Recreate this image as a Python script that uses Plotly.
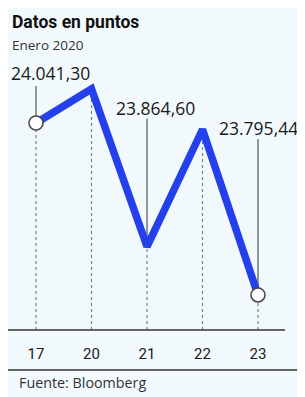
import plotly.graph_objects as go

# Data
days = ["17", "20", "21", "22", "23"]
values = [24041.30, 24090.0, 23864.60, 24032.0, 23795.44]
labels = ["24.041,30", None, "23.864,60", None, "23.795,44"]
marker_days = [0, 4]

title = "Datos en puntos"
subtitle = "Enero 2020"
source = "Fuente: Bloomberg"

xi = list(range(len(days)))
ymin, ymax = 23745.4, 24205.7
line_color = "#2340ea"
grid_color = "#6f8299"
text_color = "#1a1a1a"
num_font = "Open Sans, DejaVu Sans, sans-serif"

W, H = 297, 389
PB = 322  # plot bottom in figure pixels

fig = go.Figure()

# dotted drop lines from each point to the axis
for i, v in zip(xi, values):
    fig.add_trace(go.Scatter(
        x=[i, i], y=[ymin, v], mode="lines",
        line=dict(color=grid_color, width=1.2, dash="dot"),
        hoverinfo="skip", showlegend=False))

# main line
fig.add_trace(go.Scatter(
    x=xi, y=values, mode="lines",
    line=dict(color=line_color, width=7.5),
    showlegend=False))

# end markers
fig.add_trace(go.Scatter(
    x=[xi[i] for i in marker_days], y=[values[i] for i in marker_days],
    mode="markers",
    marker=dict(size=14, color="white", line=dict(color="#4a4a4a", width=1.6)),
    showlegend=False))

# label connectors + labels
conn = {0: (7, 37), 2: (6, 128), 4: (7, 156)}
shifts = {0: (14, 50), 2: (8.5, 139), 4: (0, 167)}
for i, lab in enumerate(labels):
    if lab is None:
        continue
    a, b = conn[i]
    fig.add_shape(type="line", xref="x", yref="y", x0=xi[i], x1=xi[i],
                  ysizemode="pixel", yanchor=values[i], y0=a, y1=b,
                  line=dict(color="#555555", width=1.2), layer="below")
    dx, dy = shifts[i]
    fig.add_annotation(x=xi[i], y=values[i], text=lab, showarrow=False,
                       xshift=dx, yshift=dy,
                       font=dict(family=num_font, size=17.5, weight=500,
                                 color=text_color))

# axis line, bottom rule
fig.add_shape(type="line", xref="paper", yref="paper", x0=0, x1=277/W,
              y0=0, y1=0, line=dict(color="#333333", width=1.6))
fig.add_shape(type="line", xref="paper", yref="paper", x0=-0.1, x1=1.1,
              y0=-40/PB, y1=-40/PB, line=dict(color="#333333", width=1.6))

# titles
fig.add_annotation(xref="paper", yref="paper", x=2/W, y=1, xanchor="left",
                   yanchor="middle", yshift=-14, text="<b>" + title + "</b>",
                   showarrow=False,
                   font=dict(family="Liberation Sans Narrow, Roboto, sans-serif",
                             size=17.5, color="#111111"))
fig.add_annotation(xref="paper", yref="paper", x=2/W, y=1, xanchor="left",
                   yanchor="middle", yshift=-37, text=subtitle, showarrow=False,
                   font=dict(family=num_font, size=13.5, color="#333333"))
fig.add_annotation(xref="paper", yref="paper", x=9/W, y=0, xanchor="left",
                   yanchor="middle", yshift=-52, text=source, showarrow=False,
                   font=dict(family=num_font, size=14.3, color="#333333"))

fig.update_layout(
    width=W, height=H,
    margin=dict(l=0, r=0, t=0, b=H - PB),
    paper_bgcolor="#f1f9fc", plot_bgcolor="rgba(0,0,0,0)",
    xaxis=dict(range=[-28/55.5, 4 + 47/55.5], tickvals=xi, ticktext=days,
               showgrid=False, zeroline=False, showline=False, ticks="",
               tickfont=dict(family="Liberation Sans Narrow, Roboto, sans-serif",
                             size=15, color=text_color), fixedrange=True),
    yaxis=dict(range=[ymin, ymax], visible=False, fixedrange=True),
    showlegend=False,
)
fig.update_xaxes(ticklabelstandoff=13)

fig.write_html("out.html")
